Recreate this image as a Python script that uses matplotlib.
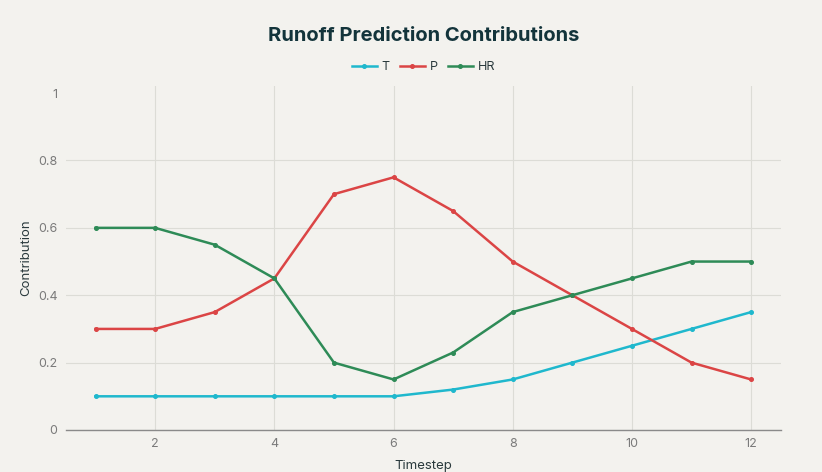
import matplotlib.pyplot as plt

timesteps = [1, 2, 3, 4, 5, 6, 7, 8, 9, 10, 11, 12]
t_contrib = [0.10, 0.10, 0.10, 0.10, 0.10, 0.10, 0.12, 0.15, 0.20, 0.25, 0.30, 0.35]
p_contrib = [0.30, 0.30, 0.35, 0.45, 0.70, 0.75, 0.65, 0.50, 0.40, 0.30, 0.20, 0.15]
hr_contrib = [0.60, 0.60, 0.55, 0.45, 0.20, 0.15, 0.23, 0.35, 0.40, 0.45, 0.50, 0.50]

series = [("T", t_contrib, "#1fb8cd"),
          ("P", p_contrib, "#db4545"),
          ("HR", hr_contrib, "#2e8b57")]

bg = "#f3f2ee"
plt.rcParams['font.family'] = ['Inter', 'DejaVu Sans']

fig = plt.figure(figsize=(8.22, 4.72), dpi=100, facecolor=bg)
ax = fig.add_axes([0.080, 0.089, 0.870, 0.728], facecolor=bg)

for name, vals, col in series:
    ax.plot(timesteps, vals, '-', marker='o', color=col, markersize=2.6,
            linewidth=1.8, label=name, zorder=3)

ax.set_xlim(0.5, 12.5)
ax.set_ylim(0, 1.02)
ax.set_xticks([2, 4, 6, 8, 10, 12])
ax.set_yticks([0, 0.2, 0.4, 0.6, 0.8, 1.0])
ax.set_yticklabels(["0", "0.2", "0.4", "0.6", "0.8", "1"])
ax.tick_params(colors="#7a7a7a", labelsize=9, length=0)
ax.tick_params(axis='x', pad=6)
ax.tick_params(axis='y', pad=6)
ax.grid(True, color="#dcdcd6", linewidth=0.8)
ax.yaxis.get_gridlines()[-1].set_visible(False)
ax.set_axisbelow(True)
for s in ['top', 'right', 'left']:
    ax.spines[s].set_visible(False)
ax.spines['bottom'].set_color("#8a8a8a")
ax.spines['bottom'].set_linewidth(1.0)

ax.set_xlabel("Timestep", fontsize=9.5, color="#2a3a3d", labelpad=7)
ax.set_ylabel("Contribution", fontsize=9.5, color="#2a3a3d", labelpad=4)

fig.text(0.515, 0.924, "Runoff Prediction Contributions", ha='center', va='center',
         fontsize=14.5, fontweight='bold', color="#13343b")
fig.legend(loc='center', bbox_to_anchor=(0.515, 0.858), ncol=3, frameon=False,
           fontsize=9, handlelength=2.0, columnspacing=0.8, handletextpad=0.4,
           labelcolor="#2a3a3d")

fig.savefig("out.png", dpi=100, facecolor=bg)
